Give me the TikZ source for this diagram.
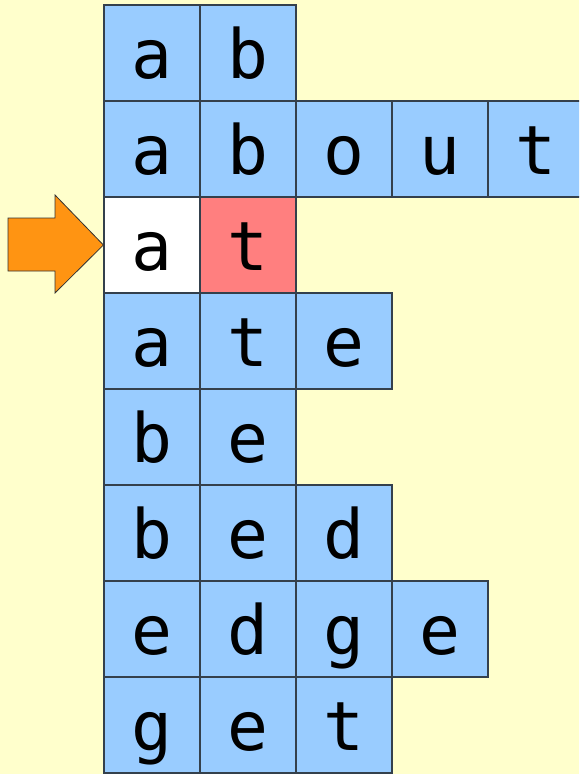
\documentclass[tikz,border=0pt]{standalone}
\usepackage{fontspec}
\setmonofont{DejaVu Sans Mono}
\definecolor{bg}{HTML}{FFFFCC}
\definecolor{cellblue}{HTML}{99CCFF}
\definecolor{cellred}{HTML}{FF7F7F}
\definecolor{cellwhite}{HTML}{FFFFFF}
\definecolor{arroworange}{HTML}{FF9412}
\definecolor{edge}{HTML}{34404C}
\begin{document}
\begin{tikzpicture}[x=1pt,y=-1pt,
  cell/.style={draw=edge, line width=1.2pt, minimum size=96pt, inner sep=0pt},
  lbl/.style={font=\fontsize{68}{68}\selectfont\ttfamily, anchor=base, inner sep=0pt}]
\fill[bg] (0,0) rectangle (579,774);
\useasboundingbox (0,0) rectangle (579,774);
\begin{scope}
\clip (0,0) rectangle (579,774);
\foreach \r/\c/\ch/\col in {
  0/0/a/cellblue, 0/1/b/cellblue,
  1/0/a/cellblue, 1/1/b/cellblue, 1/2/o/cellblue, 1/3/u/cellblue, 1/4/t/cellblue,
  2/0/a/cellwhite, 2/1/t/cellred,
  3/0/a/cellblue, 3/1/t/cellblue, 3/2/e/cellblue,
  4/0/b/cellblue, 4/1/e/cellblue,
  5/0/b/cellblue, 5/1/e/cellblue, 5/2/d/cellblue,
  6/0/e/cellblue, 6/1/d/cellblue, 6/2/g/cellblue, 6/3/e/cellblue,
  7/0/g/cellblue, 7/1/e/cellblue, 7/2/t/cellblue}{
  \node[cell, fill=\col] (c-\r-\c) at (152+96*\c, 53+96*\r) {};
  \node[lbl] (t-\r-\c) at (152+96*\c, 78+96*\r) {\ch};
}
\end{scope}
\draw[fill=arroworange, draw=black!80, line width=0.8pt, line join=miter]
  (8,218) -- (55,218) -- (55,195) -- (c-2-0.west) -- (55,293) -- (55,271) -- (8,271) -- cycle;
\end{tikzpicture}
\end{document}
